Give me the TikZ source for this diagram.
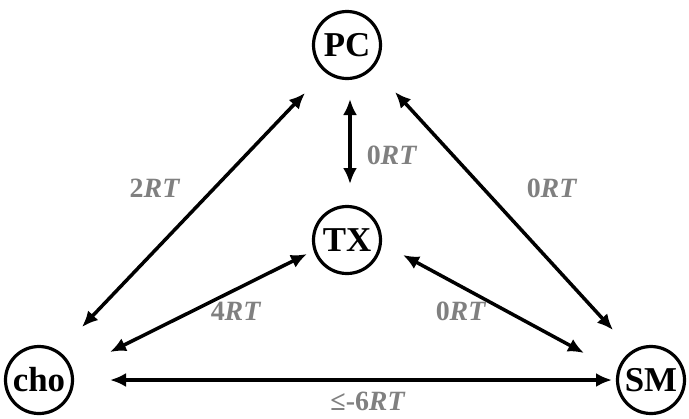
\documentclass[tikz,border=0pt]{standalone}
\usepackage{fontspec}
\setmainfont{Liberation Serif}
\usetikzlibrary{arrows.meta,calc}
\definecolor{labelgray}{RGB}{128,128,128}
\tikzset{
  species/.style={draw, circle, line width=3.2bp, minimum size=67bp, inner sep=0pt,
    font=\fontsize{35}{38}\selectfont\bfseries},
  link/.style={line width=3.5bp, {Latex[length=16bp,width=14bp]}-{Latex[length=16bp,width=14bp]}},
  energy/.style={text=labelgray, font=\fontsize{28}{30}\selectfont\bfseries, inner sep=0pt}
}
\begin{document}
\begin{tikzpicture}[x=1bp, y=-1bp]
  \useasboundingbox (0,0) rectangle (689,418);

  % states
  \node[species] (PC)  at (347,45)  {PC};
  \node[species] (TX)  at (347,240) {TX};
  \node[species] (cho) at (39,380)  {cho};
  \node[species] (SM)  at (651,380) {SM};

  % transitions (ends offset from the state centres)
  \draw[link] ($(PC)+(-42,48)$) -- ($(cho)+(43,-53)$);
  \draw[link] ($(PC)+(3,54)$)   -- ($(TX)+(3,-56)$);
  \draw[link] ($(PC)+(48,47)$)  -- ($(SM)+(-38,-50)$);
  \draw[link] ($(TX)+(-40,14)$) -- ($(cho)+(71,-28)$);
  \draw[link] ($(TX)+(56,15)$)  -- ($(SM)+(-67,-27)$);
  \draw[link] ($(cho)+(71,0)$)  -- ($(SM)+(-39,0)$);

  % free energy labels
  \node[energy] (e1) at (155,188) {2\textit{RT}};
  \node[energy] (e2) at (392,155) {0\textit{RT}};
  \node[energy] (e3) at (552,188) {0\textit{RT}};
  \node[energy] (e4) at (236,311) {4\textit{RT}};
  \node[energy] (e5) at (461,311) {0\textit{RT}};
  \node[energy, anchor=base] (e6) at (368,410) {≤-6\textit{RT}};
\end{tikzpicture}
\end{document}
